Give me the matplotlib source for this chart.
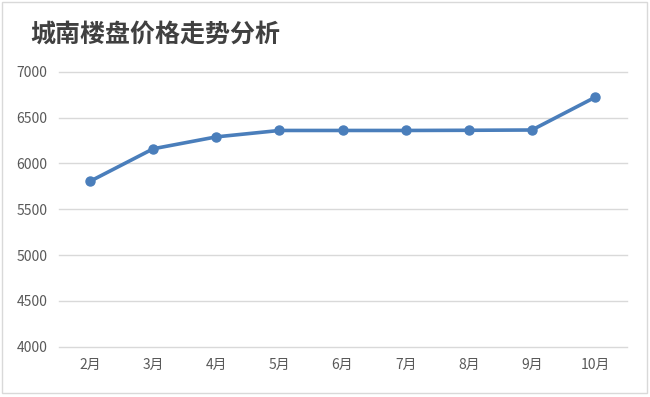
import matplotlib
matplotlib.use("Agg")
import matplotlib.pyplot as plt
from matplotlib.patches import Rectangle

plt.rcParams['font.family'] = ['Noto Sans CJK SC', 'DejaVu Sans']

# 数据
months = ['2月', '3月', '4月', '5月', '6月', '7月', '8月', '9月', '10月']
prices = [5805, 6160, 6290, 6360, 6360, 6360, 6362, 6365, 6722]
y_ticks = [4000, 4500, 5000, 5500, 6000, 6500, 7000]
title = '城南楼盘价格走势分析'

fig = plt.figure(figsize=(6.5, 3.97), dpi=100)
fig.patches.append(Rectangle((2 / 650, 4 / 397), 645 / 650, 391 / 397,
                             transform=fig.transFigure, fill=False,
                             edgecolor='#D9D9D9', linewidth=1))

ax = fig.add_axes([0.09, 0.127, 0.874, 0.692])
x = range(len(months))
ax.plot(x, prices, color='#4A7EBB', linewidth=2.6, marker='o',
        markersize=6.5, solid_capstyle='round', zorder=3)

ax.set_xlim(-0.5, len(months) - 0.5)
ax.set_ylim(4000, 7000)
ax.set_yticks(y_ticks)
ax.set_xticks(list(x))
ax.set_xticklabels(months)
ax.grid(axis='y', color='#D9D9D9', linewidth=1)
for gl in ax.get_ygridlines():
    gl.set_clip_on(False)
ax.set_axisbelow(True)
for s in ['top', 'right', 'left', 'bottom']:
    ax.spines[s].set_visible(False)
ax.tick_params(length=0, labelsize=10, colors='#595959')
ax.tick_params(axis='y', pad=8)
ax.tick_params(axis='x', pad=8)

fig.text(30 / 650, 1 - 35 / 397, title, fontsize=18, fontweight='bold',
         color='#404040', va='center', ha='left')

fig.savefig('out.png', dpi=100)
